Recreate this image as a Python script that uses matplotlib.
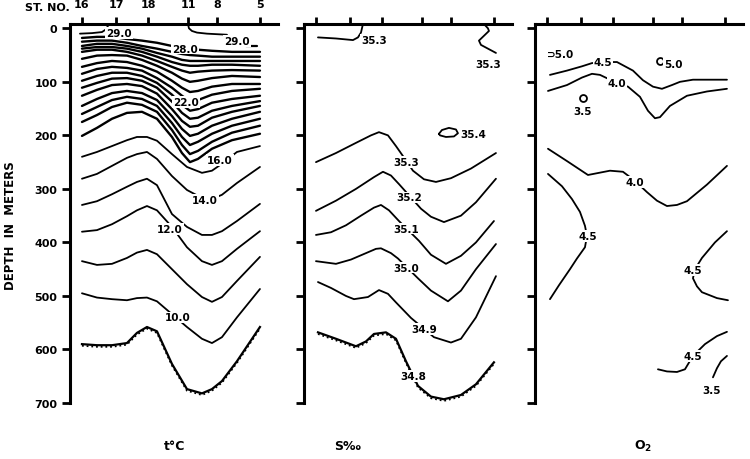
import matplotlib
matplotlib.use('Agg')
import matplotlib.pyplot as plt

plt.rcParams['font.family'] = ['Liberation Sans Narrow', 'DejaVu Sans']
plt.rcParams['font.weight'] = 'bold'

# stations along the section (distance units) and depth scale
STATIONS = ['16', '17', '18', '11', '8', '5']
STATION_X = [0, 34, 66, 106, 135, 178]
DEPTH_TICKS = [0, 100, 200, 300, 400, 500, 600, 700]

# ---- temperature (t°C) ----
T_X_UPPER = [0, 15, 30, 45, 60, 75, 90, 100, 108, 116, 130, 150, 178]
T_UPPER = [
    [18, 16, 16, 20, 23, 27, 33, 36, 38, 40, 42, 44, 44],
    [25, 23, 23, 27, 33, 38, 44, 48, 50, 51, 53, 53, 53],
    [33, 29, 29, 33, 38, 46, 53, 59, 61, 61, 61, 61, 61],
    [38, 35, 35, 38, 44, 53, 63, 68, 70, 70, 68, 68, 70],
    [44, 40, 40, 44, 51, 61, 72, 79, 83, 81, 79, 78, 79],
    [57, 51, 50, 51, 59, 70, 83, 94, 100, 98, 93, 89, 91],
    [72, 65, 61, 63, 70, 81, 98, 111, 119, 117, 109, 104, 104],
    [85, 76, 72, 74, 79, 93, 111, 126, 136, 134, 124, 117, 113],
    [98, 89, 83, 83, 89, 102, 124, 143, 154, 151, 139, 132, 126],
    [111, 102, 94, 93, 98, 111, 137, 158, 169, 167, 154, 145, 136],
    [126, 115, 106, 104, 108, 122, 151, 173, 184, 182, 167, 156, 145],
    [145, 132, 121, 117, 121, 134, 164, 188, 201, 197, 182, 169, 156],
    [160, 147, 134, 128, 132, 145, 177, 203, 218, 212, 197, 182, 169],
    [175, 162, 147, 139, 143, 156, 190, 218, 235, 229, 212, 195, 182],
    [201, 186, 169, 158, 156, 169, 203, 233, 250, 244, 225, 209, 197],
]
T_X_LOWER = [0, 15, 30, 45, 55, 65, 75, 90, 105, 120, 130, 140, 155, 178]
T_16 = [240, 231, 220, 209, 203, 203, 210, 235, 259, 270, 266, 253, 231, 220]
T_14 = [281, 272, 257, 242, 235, 231, 244, 276, 302, 317, 319, 311, 289, 259]
T_13 = [330, 323, 310, 296, 287, 281, 293, 347, 371, 386, 386, 379, 360, 328]
T_12 = [380, 377, 366, 351, 340, 332, 340, 371, 409, 435, 442, 435, 412, 379]
T_11 = [435, 442, 440, 429, 419, 414, 422, 450, 478, 502, 511, 502, 472, 427]
T_10 = [495, 503, 506, 508, 504, 503, 510, 534, 558, 580, 588, 577, 540, 487]
T_9 = [590, 592, 592, 588, 569, 558, 566, 627, 674, 682, 674, 659, 622, 558]
T_29_LEFT_X = [-2, 10, 20, 24, 27]
T_29_LEFT_D = [10, 9, 7, 2, -8]
T_29_RIGHT_X = [106, 107, 110, 115, 125, 145]
T_29_RIGHT_D = [-8, 0, 5, 8, 10, 12]
T_29_TAIL_X = [164, 175]
T_29_TAIL_D = [33, 33]

# ---- salinity (S‰) ----
S_353_TL_X = [2, 20, 37, 42, 45, 47]
S_353_TL_D = [17, 19, 22, 17, 8, -8]
S_353_TR_X = [168, 172, 173, 168, 163, 165, 170, 180]
S_353_TR_D = [-8, 0, 5, 14, 23, 31, 36, 46]
S_354_X = [123, 126, 133, 140, 142, 138, 130, 124, 123]
S_354_D = [197, 190, 186, 189, 196, 202, 203, 200, 197]
S_353_X = [0, 20, 40, 55, 63, 72, 80, 86, 97, 108, 120, 135, 155, 180]
S_353_D = [250, 233, 214, 200, 194, 200, 220, 236, 266, 282, 287, 280, 262, 233]
S_352_X = [0, 20, 40, 58, 67, 75, 83, 105, 115, 128, 145, 160, 180]
S_352_D = [341, 322, 300, 278, 268, 275, 291, 337, 352, 362, 350, 325, 281]
S_351_X = [0, 15, 30, 45, 58, 65, 73, 83, 103, 115, 130, 145, 160, 178]
S_351_D = [386, 381, 368, 350, 335, 330, 340, 360, 397, 423, 440, 425, 400, 360]
S_350_X = [0, 20, 35, 50, 60, 65, 75, 82, 102, 115, 132, 145, 160, 180]
S_350_D = [435, 440, 432, 420, 412, 411, 420, 430, 467, 490, 510, 490, 450, 403]
S_349_X = [2, 15, 30, 38, 52, 63, 72, 80, 95, 118, 135, 145, 160, 180]
S_349_D = [474, 485, 500, 506, 502, 489, 496, 512, 541, 577, 587, 580, 540, 463]
S_348_X = [2, 20, 40, 50, 58, 70, 80, 90, 102, 115, 128, 145, 160, 178]
S_348_D = [568, 580, 594, 585, 571, 568, 580, 622, 668, 688, 693, 685, 665, 624]

# ---- oxygen (O2) ----
O_45_TOP_X = [3, 20, 35, 45, 56, 70, 86, 96, 106, 115, 125, 133, 146, 180]
O_45_TOP_D = [87, 79, 71, 65, 63, 63, 79, 97, 109, 113, 106, 100, 96, 96]
O_40_TOP_X = [1, 20, 35, 45, 53, 62, 70, 81, 93, 101, 108, 113, 123, 140, 160, 180]
O_40_TOP_D = [117, 106, 92, 85, 87, 95, 103, 109, 128, 154, 168, 166, 145, 126, 118, 113]
O_40_MID_X = [1, 20, 41, 52, 63, 76, 88, 100, 110, 120, 130, 140, 160, 180]
O_40_MID_D = [225, 248, 274, 270, 266, 268, 285, 306, 322, 332, 330, 323, 292, 257]
O_45_LEFT_X = [1, 15, 25, 33, 38, 40, 38, 30, 23, 12, 3]
O_45_LEFT_D = [272, 295, 319, 343, 369, 388, 409, 430, 450, 480, 506]
O_45_RIGHT_X = [180, 168, 155, 148, 146, 150, 155, 170, 181]
O_45_RIGHT_D = [379, 400, 429, 450, 467, 482, 493, 504, 508]
O_45_LOW_X = [111, 120, 130, 138, 146, 158, 170, 180]
O_45_LOW_D = [637, 641, 642, 637, 612, 590, 575, 567]
O_35_LOW_X = [166, 170, 174, 180]
O_35_LOW_D = [652, 635, 622, 612]
O_SMALL_LOOPS_X = [113, 36]
O_SMALL_LOOPS_D = [61, 130]

fig = plt.figure(figsize=(7.5, 4.6), dpi=100)
bottom, height, width = 0.1217, 0.8239, 0.2773
ax_t = fig.add_axes([0.0933, bottom, width, height])
ax_s = fig.add_axes([0.4053, bottom, width, height])
ax_o = fig.add_axes([0.7133, bottom, width, height])

LW = 1.3
LAB = dict(ha='center', va='center', fontsize=7.5, fontweight='bold', zorder=5,
           bbox=dict(fc='white', ec='none', pad=0.6))


def line(ax, x, d, lw=LW):
    ax.plot(x, d, color='black', lw=lw, solid_capstyle='round', solid_joinstyle='round')


def dotted(ax, x, d):
    ax.plot(x, d, color='black', lw=1.6, solid_joinstyle='round')
    ax.plot(x, [v + 3 for v in d], color='black', lw=1.3, ls=(0, (1, 1.6)))


# temperature panel
for depths in T_UPPER:
    line(ax_t, T_X_UPPER, depths, lw=1.7)
for depths in [T_16, T_14, T_13, T_12, T_11, T_10]:
    line(ax_t, T_X_LOWER, depths)
dotted(ax_t, T_X_LOWER, T_9)
line(ax_t, T_29_LEFT_X, T_29_LEFT_D)
line(ax_t, T_29_RIGHT_X, T_29_RIGHT_D)
line(ax_t, T_29_TAIL_X, T_29_TAIL_D, lw=1.6)
ax_t.text(37, 9, '29.0', **LAB)
ax_t.text(155, 24, '29.0', **LAB)
ax_t.text(103, 38, '28.0', **LAB)
ax_t.text(104, 138, '22.0', **LAB)
ax_t.text(138, 246, '16.0', **LAB)
ax_t.text(123, 320, '14.0', **LAB)
ax_t.text(88, 375, '12.0', **LAB)
ax_t.text(96, 540, '10.0', **LAB)

# salinity panel
for x, d in [(S_353_TL_X, S_353_TL_D), (S_353_TR_X, S_353_TR_D), (S_354_X, S_354_D),
             (S_353_X, S_353_D), (S_352_X, S_352_D), (S_351_X, S_351_D),
             (S_350_X, S_350_D), (S_349_X, S_349_D)]:
    line(ax_s, x, d)
dotted(ax_s, S_348_X, S_348_D)
ax_s.text(58, 21, '35.3', **LAB)
ax_s.text(172, 67, '35.3', **LAB)
ax_s.text(157, 198, '35.4', **LAB)
ax_s.text(90, 250, '35.3', **LAB)
ax_s.text(93, 316, '35.2', **LAB)
ax_s.text(90, 374, '35.1', **LAB)
ax_s.text(90, 447, '35.0', **LAB)
ax_s.text(108, 562, '34.9', **LAB)
ax_s.text(97, 650, '34.8', **LAB)

# oxygen panel
for x, d in [(O_45_TOP_X, O_45_TOP_D), (O_40_TOP_X, O_40_TOP_D), (O_40_MID_X, O_40_MID_D),
             (O_45_LEFT_X, O_45_LEFT_D), (O_45_RIGHT_X, O_45_RIGHT_D),
             (O_45_LOW_X, O_45_LOW_D), (O_35_LOW_X, O_35_LOW_D)]:
    line(ax_o, x, d)
ax_o.plot(O_SMALL_LOOPS_X, O_SMALL_LOOPS_D, ls='none', marker='o', ms=5,
          mfc='white', mec='black', mew=1.3)
ax_o.text(14, 48, '⊃5.0', **LAB)
ax_o.text(126, 66, '5.0', **LAB)
ax_o.text(56, 63, '4.5', **LAB)
ax_o.text(70, 102, '4.0', **LAB)
ax_o.text(36, 154, '3.5', **LAB)
ax_o.text(88, 287, '4.0', **LAB)
ax_o.text(41, 388, '4.5', **LAB)
ax_o.text(146, 452, '4.5', **LAB)
ax_o.text(146, 612, '4.5', **LAB)
ax_o.text(165, 675, '3.5', **LAB)

for i, ax in enumerate([ax_t, ax_s, ax_o]):
    ax.set_xlim(-12, 196)
    ax.set_ylim(700, -8)
    ax.spines['right'].set_visible(False)
    ax.spines['bottom'].set_visible(False)
    ax.spines['left'].set_linewidth(2.2)
    ax.spines['top'].set_linewidth(2.2)
    ax.xaxis.set_ticks_position('top')
    ax.set_xticks(STATION_X)
    ax.set_yticks(DEPTH_TICKS)
    ax.tick_params(axis='y', direction='out', length=6, width=2, labelsize=8, pad=3)
    ax.tick_params(axis='x', direction='out', length=5, width=2, labelsize=8, pad=6)
    if i == 0:
        ax.set_xticklabels(STATIONS)
    else:
        ax.set_xticklabels([])
        ax.set_yticklabels([])

fig.text(0.063, 0.983, 'ST. NO.', ha='center', va='center', fontsize=8, fontweight='bold')
fig.text(0.014, 0.51, 'DEPTH  IN  METERS', rotation=90, ha='center', va='center',
         fontsize=8.5, fontweight='bold')
fig.text(175 / 750, 0.03, 't°C', ha='center', va='center', fontsize=9, fontweight='bold')
fig.text(348 / 750, 0.03, 'S‰', ha='center', va='center', fontsize=9, fontweight='bold')
fig.text(643 / 750, 0.03, 'O$_2$', ha='center', va='center', fontsize=9, fontweight='bold')

fig.savefig('out.png', dpi=100)
